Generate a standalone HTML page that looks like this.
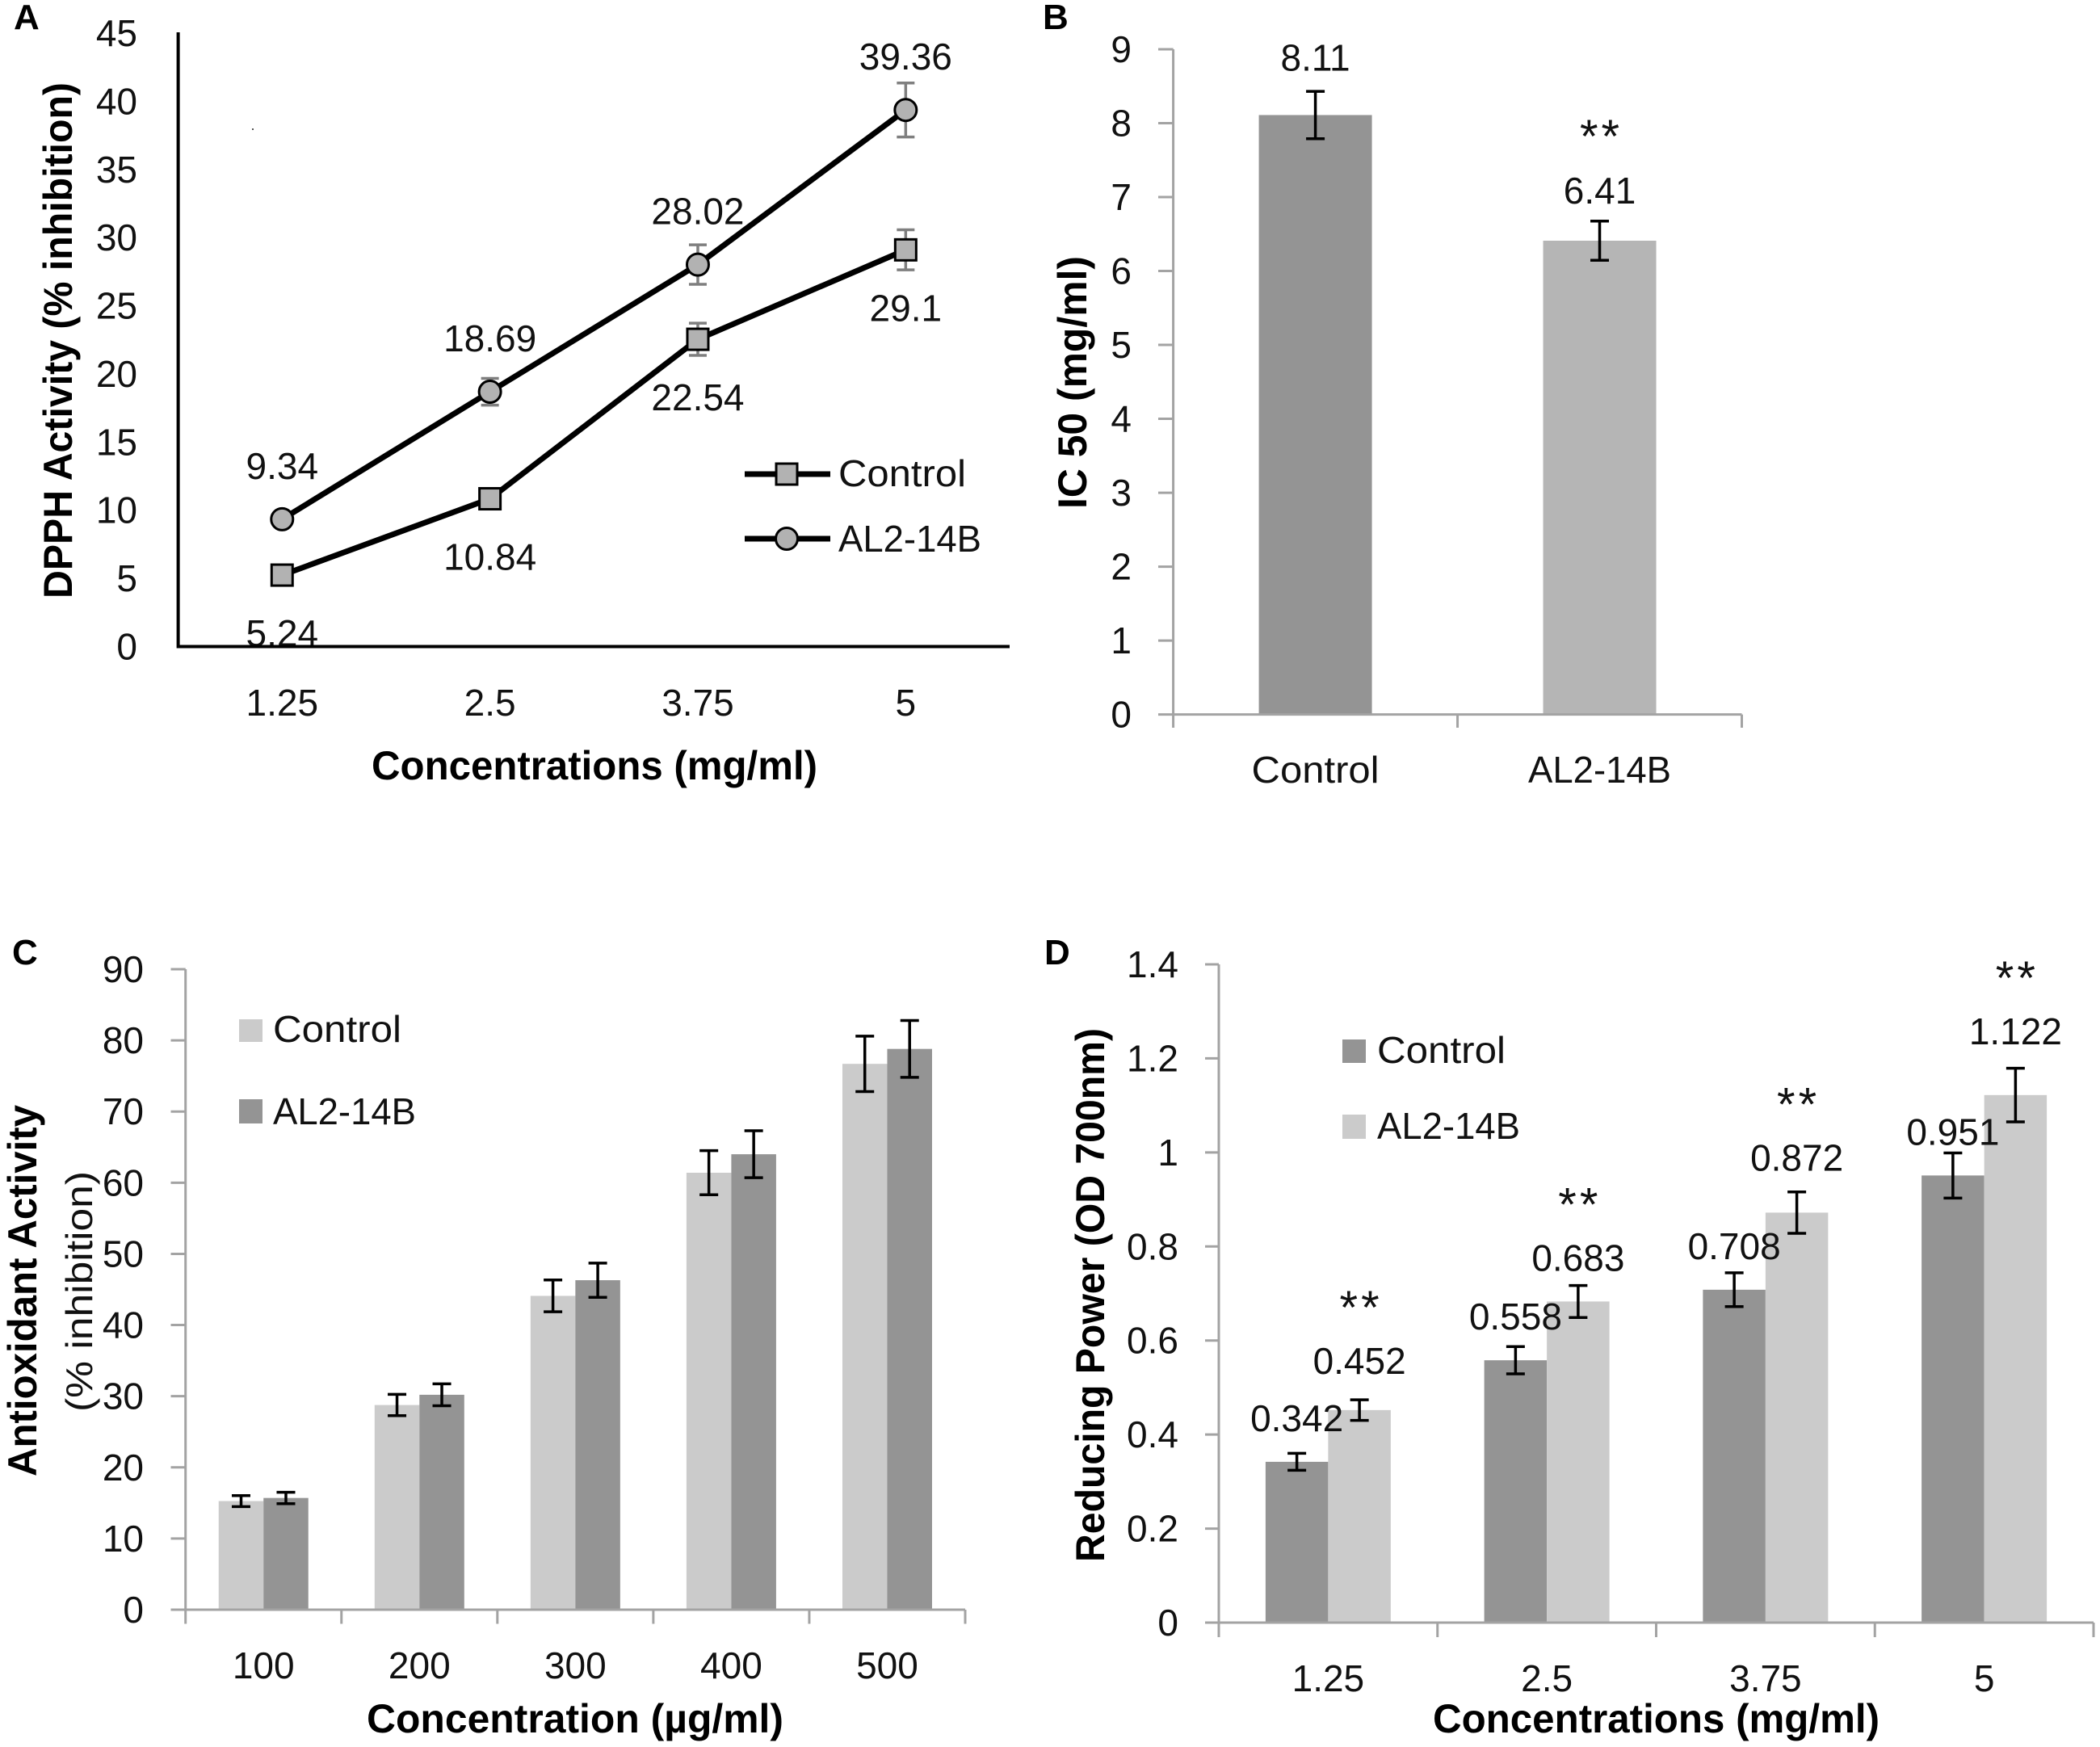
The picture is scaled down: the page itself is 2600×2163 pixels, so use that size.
<!DOCTYPE html>
<html lang="en">
<head>
<meta charset="utf-8">
<title>Antioxidant activity charts</title>
<style>
html,body{margin:0;padding:0;background:#fff;width:2600px;height:2163px;overflow:hidden}
svg{display:block}
text{font-family:"Liberation Sans",Arial,sans-serif;fill:#111}
.t{font-size:46px}
.dl{font-size:46px}
.b{font-weight:bold;font-size:50px;fill:#000}
.p{font-weight:bold;font-size:44px;fill:#000}
.s{font-size:58px;letter-spacing:4px}
</style>
</head>
<body>
<svg id="figure" xmlns="http://www.w3.org/2000/svg" width="2600" height="2163" viewBox="0 0 2600 2163">
  <rect width="2600" height="2163" fill="#fff"/>

  <g id="panelA">
    <text class="p" x="17" y="36">A</text>
    <rect x="312" y="159" width="2" height="2" fill="#555"/>
    <text class="b" transform="translate(89,741) rotate(-90)" textLength="639" lengthAdjust="spacingAndGlyphs">DPPH Activity (% inhibition)</text>
    <text class="b" x="460" y="965" textLength="552" lengthAdjust="spacingAndGlyphs">Concentrations (mg/ml)</text>
    <g>
      <line x1="922" y1="587" x2="1028" y2="587" stroke="#000" stroke-width="7"/>
      <rect x="961" y="574" width="26" height="26" fill="#b2b2b2" stroke="#000" stroke-width="3"/>
      <text class="t" x="1038" y="602" textLength="158" lengthAdjust="spacingAndGlyphs">Control</text>
      <line x1="922" y1="667" x2="1028" y2="667" stroke="#000" stroke-width="7"/>
      <circle cx="974" cy="667" r="13.5" fill="#b2b2b2" stroke="#000" stroke-width="3"/>
      <text class="t" x="1038" y="683" textLength="177" lengthAdjust="spacingAndGlyphs">AL2-14B</text>
    </g>
  </g>

  <g id="panelB">
    <text class="p" x="1291" y="36">B</text>
    <text class="b" transform="translate(1345,630) rotate(-90)" textLength="313" lengthAdjust="spacingAndGlyphs">IC 50 (mg/ml)</text>
  </g>

  <g id="panelC">
    <text class="p" x="15" y="1194">C</text>
    <text class="b" transform="translate(45,1828) rotate(-90)" textLength="460" lengthAdjust="spacingAndGlyphs">Antioxidant Activity</text>
    <text class="t" transform="translate(114,1748) rotate(-90)" textLength="298" lengthAdjust="spacingAndGlyphs">(% inhibition)</text>
    <text class="b" x="454" y="2145" textLength="516" lengthAdjust="spacingAndGlyphs">Concentration (µg/ml)</text>
    <g>
      <rect x="296" y="1262" width="29" height="28" fill="#cbcbcb"/>
      <text class="t" x="338" y="1290" textLength="159" lengthAdjust="spacingAndGlyphs">Control</text>
      <rect x="296" y="1361" width="29" height="30" fill="#949494"/>
      <text class="t" x="338" y="1392" textLength="177" lengthAdjust="spacingAndGlyphs">AL2-14B</text>
    </g>
  </g>

  <g id="panelD">
    <text class="p" x="1293" y="1194">D</text>
    <text class="b" transform="translate(1367,1934) rotate(-90)" textLength="661" lengthAdjust="spacingAndGlyphs">Reducing Power (OD 700nm)</text>
    <text class="b" x="1774" y="2145" textLength="553" lengthAdjust="spacingAndGlyphs">Concentrations (mg/ml)</text>
    <g>
      <rect x="1662" y="1287" width="29" height="29" fill="#949494"/>
      <text class="t" x="1705" y="1316" textLength="159" lengthAdjust="spacingAndGlyphs">Control</text>
      <rect x="1662" y="1380" width="29" height="30" fill="#cbcbcb"/>
      <text class="t" x="1705" y="1410" textLength="177" lengthAdjust="spacingAndGlyphs">AL2-14B</text>
    </g>
  </g>
</svg>

<script>
// Panel A data
const aCategories = ["1.25", "2.5", "3.75", "5"];
const aYTicks = [0, 5, 10, 15, 20, 25, 30, 35, 40, 45];
const aControl = [5.24, 10.84, 22.54, 29.1];
const aControlErr = [0.3, 0.5, 1.18, 1.47];
const aTreated = [9.34, 18.69, 28.02, 39.36];
const aTreatedErr = [0.5, 0.98, 1.45, 1.98];

// Panel B data
const bCategories = ["Control", "AL2-14B"];
const bYTicks = [0, 1, 2, 3, 4, 5, 6, 7, 8, 9];
const bValues = [8.11, 6.41];
const bErrors = [0.32, 0.265];

// Panel C data
const cCategories = ["100", "200", "300", "400", "500"];
const cYTicks = [0, 10, 20, 30, 40, 50, 60, 70, 80, 90];
const cControl = [15.26, 28.76, 44.1, 61.4, 76.7];
const cControlErr = [0.77, 1.5, 2.24, 3.1, 3.9];
const cTreated = [15.7, 30.2, 46.3, 64.0, 78.8];
const cTreatedErr = [0.8, 1.54, 2.4, 3.3, 4.0];

// Panel D data
const dCategories = ["1.25", "2.5", "3.75", "5"];
const dYTicks = [0, 0.2, 0.4, 0.6, 0.8, 1, 1.2, 1.4];
const dControl = [0.342, 0.558, 0.708, 0.951];
const dControlErr = [0.018, 0.029, 0.036, 0.048];
const dTreated = [0.452, 0.683, 0.872, 1.122];
const dTreatedErr = [0.022, 0.034, 0.044, 0.057];

const SVG_NS = "http://www.w3.org/2000/svg";
const GREY_AXIS = "#a3a3a3";

function make(parent, tag, attrs, content) {
  const node = document.createElementNS(SVG_NS, tag);
  for (const key in attrs) node.setAttribute(key, attrs[key]);
  if (content !== undefined) node.textContent = content;
  parent.appendChild(node);
  return node;
}

function linear(d0, d1, r0, r1) {
  return function (v) { return r0 + (v - d0) / (d1 - d0) * (r1 - r0); };
}

function band(x0, x1, n) {
  const w = (x1 - x0) / n;
  return function (i) { return x0 + w * (i + 0.5); };
}

function drawYTicks(g, ticks, y, labelX, axisX, tickX) {
  ticks.forEach(function (t) {
    const label = make(g, "text", { class: "t", x: labelX, y: y(t) + 16, "text-anchor": "end" }, String(t));
    
    
    if (tickX !== null) {
      const tick = make(g, "line", { x1: tickX, x2: axisX, y1: y(t), y2: y(t), stroke: GREY_AXIS, "stroke-width": 3 });
      
      
    }
  });
}

function drawXLabels(g, cats, x, baseline, fit) {
  cats.forEach(function (c, i) {
    const attrs = { class: "t", x: x(i), y: baseline, "text-anchor": "middle" };
    if (fit) { attrs.textLength = fit[i]; attrs.lengthAdjust = "spacingAndGlyphs"; }
    const label = make(g, "text", attrs, c);
    
    
  });
}

function drawXTicks(g, count, x0, x1, y0, y1) {
  for (let i = 0; i <= count; i++) {
    const px = x0 + (x1 - x0) * i / count;
    const tick = make(g, "line", { x1: px, x2: px, y1: y0, y2: y1, stroke: GREY_AXIS, "stroke-width": 3 });
    
    
  }
}

function drawAxes(g, x0, x1, yTop, yBase, color, width) {
  const yAxis = make(g, "line", { x1: x0, x2: x0, y1: yTop, y2: yBase + width / 2, stroke: color, "stroke-width": width });
  
  
  const xAxis = make(g, "line", { x1: x0, x2: x1, y1: yBase, y2: yBase, stroke: color, "stroke-width": width });
  
  
}

function drawError(g, px, yHigh, yLow, cap, color, key) {
  const eg = make(g, "g", { stroke: color, "stroke-width": 3.5, fill: "none" });
  
  
  make(eg, "line", { x1: px, x2: px, y1: yHigh, y2: yLow });
  make(eg, "line", { x1: px - cap / 2, x2: px + cap / 2, y1: yHigh, y2: yHigh });
  make(eg, "line", { x1: px - cap / 2, x2: px + cap / 2, y1: yLow, y2: yLow });
}

function drawBar(g, px, width, yTop, yBase, color, key) {
  const bar = make(g, "rect", { x: px - width / 2, y: yTop, width: width, height: yBase - yTop, fill: color });
  
  
}

function drawValueLabel(g, px, yCenter, value, key) {
  const label = make(g, "text", { class: "dl", x: px, y: yCenter + 16, "text-anchor": "middle" }, String(value));
  
  
}

function drawStars(g, px, yCenter, key) {
  const stars = make(g, "text", { class: "s", x: px + 2, y: yCenter + 29, "text-anchor": "middle" }, "**");
  
  
}

/* ---------- Panel A ---------- */
(function () {
  const g = document.getElementById("panelA");
  const x = band(220.6, 1250, aCategories.length);
  const y = linear(0, 45, 800.5, 41);

  drawYTicks(g, aYTicks, y, 170, 220.6, null);
  drawXLabels(g, aCategories, x, 886);

  function series(values, errors, key, marker) {
    values.forEach(function (v, i) {
      drawError(g, x(i), y(v + errors[i]), y(v - errors[i]), 22, "#7f7f7f", key + '-' + aCategories[i]);
    });
    const pts = values.map(function (v, i) { return x(i) + "," + y(v); }).join(" ");
    const line = make(g, "polyline", { points: pts, fill: "none", stroke: "#000", "stroke-width": 7, "stroke-linejoin": "round" });
    
    
    values.forEach(function (v, i) {
      let m;
      if (marker === "square") {
        m = make(g, "rect", { x: x(i) - 13, y: y(v) - 13, width: 26, height: 26, fill: "#b2b2b2", stroke: "#000", "stroke-width": 3 });
      } else {
        m = make(g, "circle", { cx: x(i), cy: y(v), r: 13.5, fill: "#b2b2b2", stroke: "#000", "stroke-width": 3 });
      }
      
      
    });
  }
  series(aControl, aControlErr, "control", "square");
  series(aTreated, aTreatedErr, "al2-14b", "circle");

  aControl.forEach(function (v, i) { drawValueLabel(g, x(i), y(v) + 72, v, 'control-' + aCategories[i]); });
  aTreated.forEach(function (v, i) { drawValueLabel(g, x(i), y(v) - 66, v, 'al2-14b-' + aCategories[i]); });

  drawAxes(g, 220.6, 1250, 40, 800.5, "#000", 4);
})();

/* ---------- Panel B ---------- */
(function () {
  const g = document.getElementById("panelB");
  const x = band(1452.6, 2156.5, bCategories.length);
  const y = linear(0, 9, 884.6, 61);
  const colors = ["#949494", "#b5b5b5"];

  drawYTicks(g, bYTicks, y, 1401, 1452.6, 1434);
  drawXTicks(g, bCategories.length, 1452.6, 2156.5, 884.6, 901);
  drawXLabels(g, bCategories, x, 969, [158, 177]);

  bValues.forEach(function (v, i) {
    drawBar(g, x(i), 140, y(v), 884.6, colors[i], bCategories[i]);
    drawError(g, x(i), y(v + bErrors[i]), y(v - bErrors[i]), 23, "#000", bCategories[i]);
  });
  drawValueLabel(g, x(0), y(bValues[0]) - 71, bValues[0], 'control');
  drawValueLabel(g, x(1), y(bValues[1]) - 62, bValues[1], 'al2-14b');
  drawStars(g, x(1), y(bValues[1]) - 138, 'al2-14b');

  drawAxes(g, 1452.6, 2156.5, 61, 884.6, GREY_AXIS, 3);
})();

/* ---------- Panel C ---------- */
(function () {
  const g = document.getElementById("panelC");
  const x = band(229.7, 1195, cCategories.length);
  const y = linear(0, 90, 1993, 1200);
  const barW = 55.5;

  drawYTicks(g, cYTicks, y, 178, 229.7, 211.5);
  drawXTicks(g, cCategories.length, 229.7, 1195, 1993, 2010.5);
  drawXLabels(g, cCategories, x, 2078);

  cCategories.forEach(function (c, i) {
    drawBar(g, x(i) - barW / 2, barW, y(cControl[i]), 1993, "#cbcbcb", 'control-' + c);
    drawBar(g, x(i) + barW / 2, barW, y(cTreated[i]), 1993, "#949494", 'al2-14b-' + c);
    drawError(g, x(i) - barW / 2, y(cControl[i] + cControlErr[i]), y(cControl[i] - cControlErr[i]), 23, "#000", 'control-' + c);
    drawError(g, x(i) + barW / 2, y(cTreated[i] + cTreatedErr[i]), y(cTreated[i] - cTreatedErr[i]), 23, "#000", 'al2-14b-' + c);
  });

  drawAxes(g, 229.7, 1195, 1200, 1993, GREY_AXIS, 3);
})();

/* ---------- Panel D ---------- */
(function () {
  const g = document.getElementById("panelD");
  const x = band(1509, 2592, dCategories.length);
  const y = linear(0, 1.4, 2009, 1194);
  const barW = 77.5;
  const treatedLift = [61, 54, 68, 79];

  drawYTicks(g, dYTicks, y, 1459, 1509, 1492);
  drawXTicks(g, dCategories.length, 1509, 2592, 2009, 2027);
  drawXLabels(g, dCategories, x, 2094);

  dCategories.forEach(function (c, i) {
    drawBar(g, x(i) - barW / 2, barW, y(dControl[i]), 2009, "#949494", 'control-' + c);
    drawBar(g, x(i) + barW / 2, barW, y(dTreated[i]), 2009, "#cbcbcb", 'al2-14b-' + c);
    drawError(g, x(i) - barW / 2, y(dControl[i] + dControlErr[i]), y(dControl[i] - dControlErr[i]), 23, "#000", 'control-' + c);
    drawError(g, x(i) + barW / 2, y(dTreated[i] + dTreatedErr[i]), y(dTreated[i] - dTreatedErr[i]), 23, "#000", 'al2-14b-' + c);
  });
  dCategories.forEach(function (c, i) {
    drawValueLabel(g, x(i) - barW / 2, y(dControl[i]) - 54, dControl[i], 'control-' + c);
    const labelY = y(dTreated[i]) - treatedLift[i];
    drawValueLabel(g, x(i) + barW / 2, labelY, dTreated[i], 'al2-14b-' + c);
    drawStars(g, x(i) + barW / 2, labelY - 75, 'al2-14b-' + c);
  });

  drawAxes(g, 1509, 2592, 1194, 2009, GREY_AXIS, 3);
})();
</script>
</body>
</html>
